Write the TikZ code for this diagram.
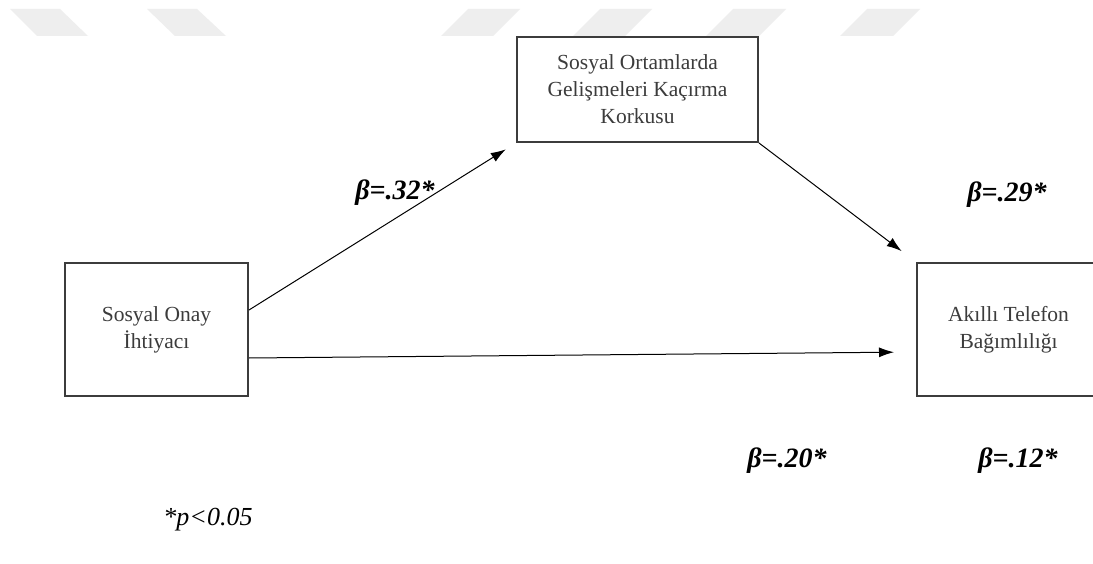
\documentclass[tikz,border=0pt]{standalone}
\usepackage{fontspec}
\setmainfont{Liberation Serif}
\usepackage{tikz}
\usetikzlibrary{arrows.meta,positioning}
\definecolor{boxgrey}{RGB}{60,60,60}
\definecolor{textgrey}{RGB}{60,60,60}
\definecolor{markgrey}{RGB}{238,238,238}
\tikzset{
    % Box for a variable in the path model
    varbox/.style={
        rectangle, draw=boxgrey, line width=2pt, fill=white,
        align=center, text=textgrey,
        font=\fontsize{21.5}{27}\selectfont
    },
    % Path coefficient labels
    coef/.style={font=\fontsize{28}{32}\selectfont\bfseries\itshape},
    % Paths between the boxes
    path/.style={-{Latex[length=15pt,width=10pt]}, line width=1pt, black},
}

\begin{document}
\begin{tikzpicture}[x=1pt,y=-1pt,
   wmark/.style={fill=markgrey,draw=none}]
  \clip (0,0) rectangle (1093,564);
  \fill[white] (0,0) rectangle (1093,564);

  % the faint band at the top
  \fill[wmark] (10,9) -- (60,9) -- (88,36) -- (37,36) -- cycle;
  \fill[wmark] (147,9) -- (197,9) -- (226,36) -- (175,36) -- cycle;
  \fill[wmark] (468,9) -- (520,9) -- (493,36) -- (441,36) -- cycle;
  \fill[wmark] (600,9) -- (652,9) -- (625,36) -- (573,36) -- cycle;
  \fill[wmark] (733,9) -- (786,9) -- (759,36) -- (706,36) -- cycle;
  \fill[wmark] (867,9) -- (920,9) -- (893,36) -- (840,36) -- cycle;

  % the three variables
  \node[varbox,minimum width=241pt,minimum height=105pt] (fomo) at (637.5,89.5)
     {Sosyal Ortamlarda\\Gelişmeleri Kaçırma\\Korkusu};
  \node[varbox,minimum width=183pt,minimum height=133pt] (onay) at (156.5,329.5)
     {Sosyal Onay\\İhtiyacı};
  \node[varbox,minimum width=183pt,minimum height=133pt] (bagim) at (1008.5,329.5)
     {Akıllı Telefon\\Bağımlılığı};

  % paths
  \draw[path,shorten >=12pt] ([yshift=19.5pt]onay.east) -- (fomo.south west);
  \draw[path,shorten >=18pt] (fomo.south east) -- (bagim.north west);
  \draw[path,shorten >=22pt] ([yshift=-28.5pt]onay.east) -- ([yshift=-22.5pt]bagim.west);

  % coefficients
  \node[coef] (b32) at (395,193) {β=.32*};
  \node[coef] (b29) at (1007,195) {β=.29*};
  \node[coef] (b20) at (787,461) {β=.20*};
  \node[coef] (b12) at (1018,461) {β=.12*};
  \node[font=\fontsize{26}{30}\selectfont\itshape] (pval) at (208,520) {*p<0.05};
\end{tikzpicture}
\end{document}
